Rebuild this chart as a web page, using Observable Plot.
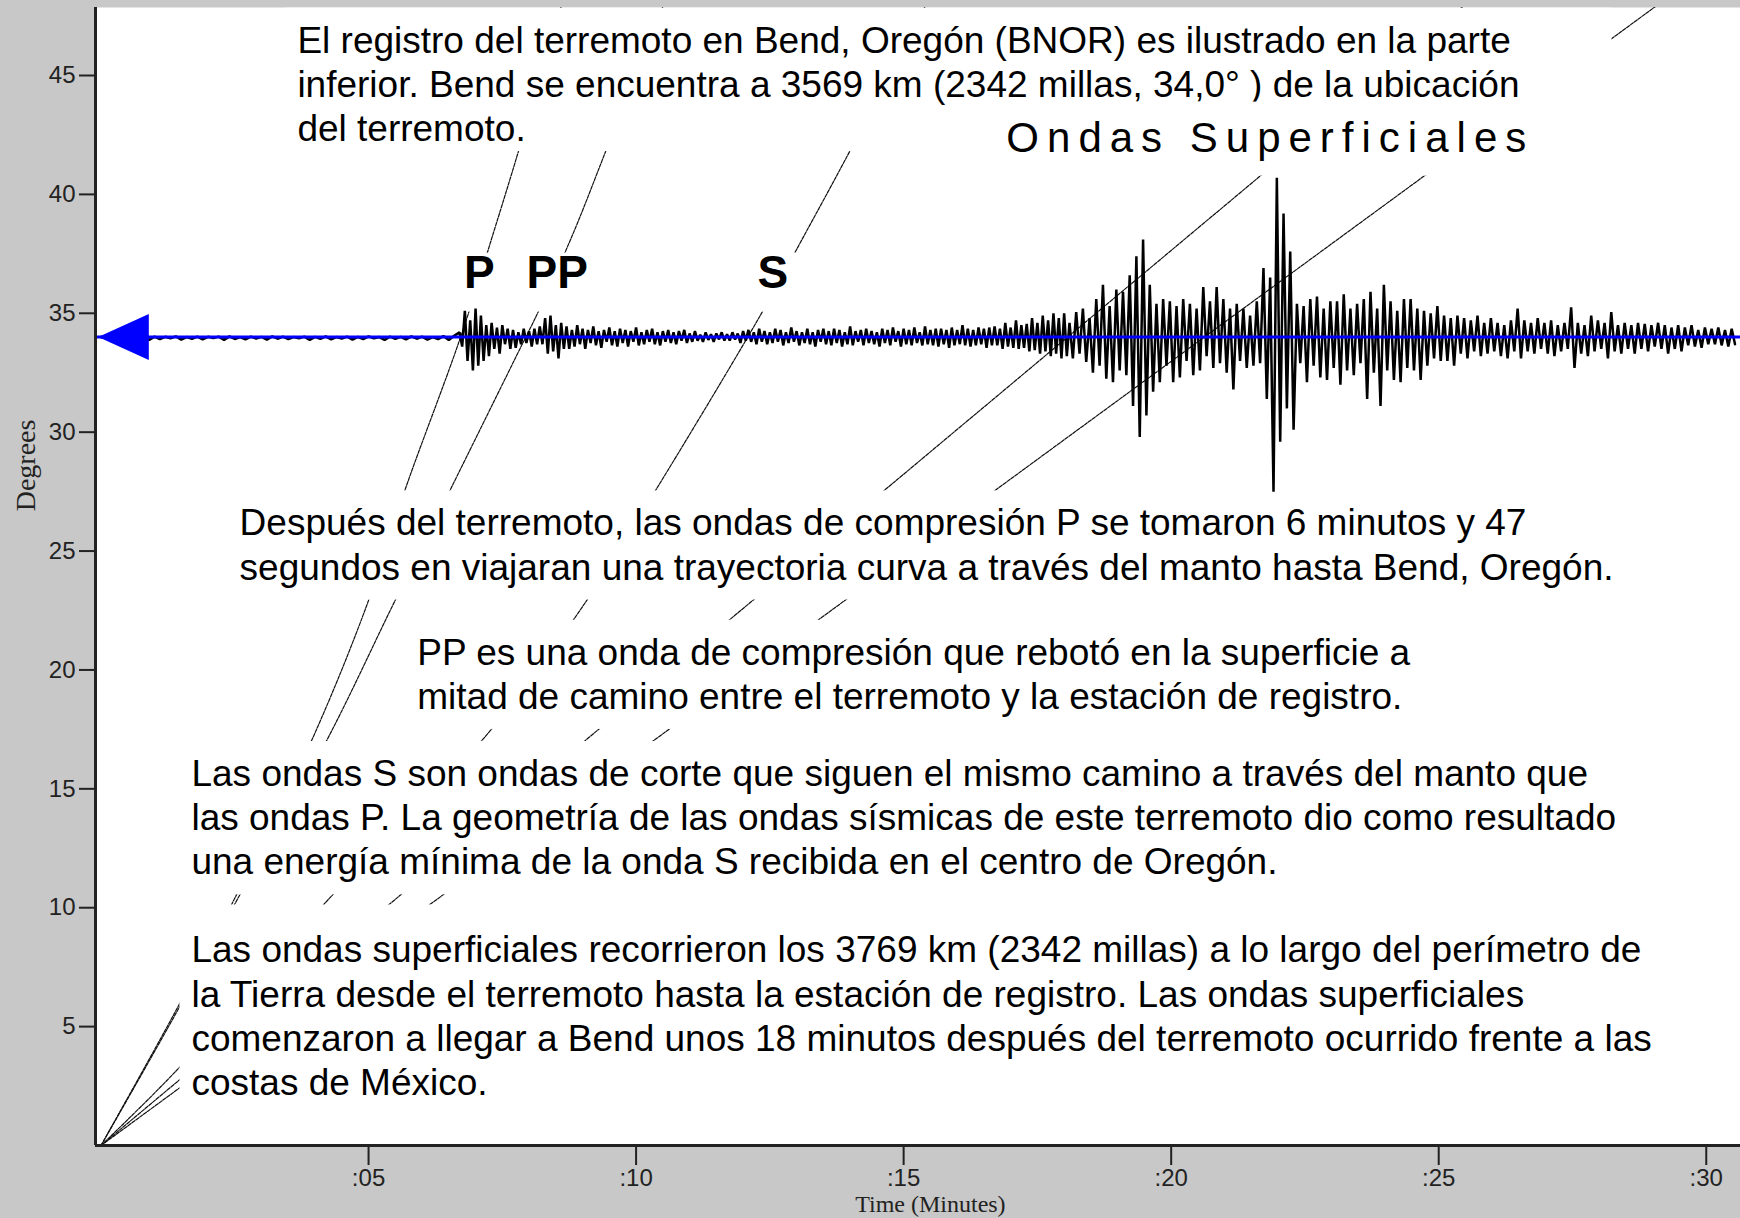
<!DOCTYPE html>
<html><head><meta charset="utf-8">
<script src="https://cdn.jsdelivr.net/npm/d3@7"></script>
<script src="https://cdn.jsdelivr.net/npm/@observablehq/plot@0.6"></script>
<style>html,body{margin:0;padding:0;background:#c8c8c8} svg{display:block}</style>
</head><body><div id="chart"></div>
<script>
// ---------------- data ----------------
const stationDeg = 34.0;                 // Bend, Oregon (BNOR) distance
const xTicks = [5, 10, 15, 20, 25, 30];  // minutes
const yTicks = [5, 10, 15, 20, 25, 30, 35, 40, 45]; // degrees

// travel-time curves: [degrees, minutes]
const travelP   = [[0,0],[5.8,1.43],[10.4,2.5],[17.0,3.93],[22.8,4.98],[27.5,5.67],[34.0,6.72],[38.5,7.35],[41.8,7.8],[47.9,8.6]];
const travelPP  = [[0,0],[5.8,1.46],[10.4,2.56],[17.0,4.21],[22.8,5.47],[27.5,6.51],[33.6,7.85],[35.1,8.18],[38.5,8.85],[41.8,9.43],[47.9,10.5]];
const travelS   = [[0,0],[3.2,1.43],[10.4,4.27],[17.3,7.22],[22.6,8.98],[27.5,10.35],[35.1,12.37],[38.1,13.1],[41.8,13.99],[47.9,15.4]];
const travelSurf1 = [[0,0],[47.9,25.45]];
const travelSurf2 = [[0,0],[47.9,29.05]];

// seismogram (offset from station line, degrees), sampled segments
const preStart = 0, preStep = 0.1;
const tracePreP = [0,-0.05,0.02,-0.08,0.01,-0.1,0.03,-0.06,0,-0.12,0.02,-0.09,0.01,-0.05,0.03,-0.11,0,-0.07,0.02,-0.1,
 0.01,-0.04,0.02,-0.12,0.03,-0.08,0,-0.1,0.02,-0.06,0.01,-0.11,0.03,-0.07,0.02,-0.09,0,-0.05,0.02,-0.12,
 0.01,-0.08,0.03,-0.1,0,-0.06,0.02,-0.11,0.01,-0.09,0.03,-0.05,0,-0.12,0.02,-0.08,0.01,-0.1,0.03,-0.07,
 0.02,-0.11,0,-0.09,0.04,-0.12,0.05];
const bodyStart = 6.7, bodyStep = 0.05;
const traceBody = [
 0.2,-0.4,1.1,-1.0,0.7,-1.4,1.2,-1.2,0.9,-1.0,0.5,-0.8,0.6,-0.5,0.4,-0.7,0.5,-0.3,0.35,-0.5,
 0.3,-0.45,0.2,-0.3,0.35,-0.25,0.25,-0.4,0.35,-0.3,0.45,-0.3,0.8,-0.7,0.9,-0.6,0.5,-0.9,0.6,-0.5,
 0.45,-0.5,0.3,-0.4,0.5,-0.3,0.35,-0.5,0.3,-0.25,0.45,-0.35,0.25,-0.45,0.3,-0.2,0.4,-0.35,0.25,-0.4,
 0.35,-0.25,0.3,-0.4,0.25,-0.2,0.4,-0.35,0.2,-0.3,0.3,-0.2,0.35,-0.3,0.2,-0.35,0.25,-0.2,0.3,-0.25,
 0.2,-0.3,0.25,-0.15,0.3,-0.25,0.15,-0.2,0.25,-0.15,0.1,-0.2,0.2,-0.12,0.12,-0.2,0.15,-0.1,0.2,-0.15,
 0.12,-0.15,0.2,-0.1,0.15,-0.25,0.25,-0.15,0.3,-0.2,0.2,-0.3,0.35,-0.2,0.25,-0.3,0.2,-0.25,0.35,-0.2,
 0.3,-0.35,0.2,-0.25,0.4,-0.2,0.25,-0.35,0.2,-0.25,0.35,-0.3,0.2,-0.4,0.3,-0.2,0.35,-0.3,0.25,-0.35,
 0.35,-0.25,0.3,-0.4,0.2,-0.3,0.45,-0.35,0.25,-0.2,0.3,-0.35,0.35,-0.25,0.25,-0.3,0.2,-0.4,0.35,-0.25,
 0.3,-0.35,0.4,-0.2,0.25,-0.4,0.35,-0.3,0.3,-0.35,0.4,-0.25,0.2,-0.35,0.45,-0.3,0.3,-0.35,0.35,-0.4,
 0.35,-0.3,0.3,-0.45,0.4,-0.35,0.3,-0.3,0.5,-0.35,0.35,-0.4,0.3,-0.35,0.4,-0.3,0.35,-0.45,0.4,-0.35,
 0.45,-0.35,0.35,-0.5,0.6,-0.4,0.4,-0.45,0.7,-0.5,0.5,-0.45,0.55,-0.6,0.8,-0.55,0.6,-0.7,0.9,-0.6,
 0.7,-0.8,1.0,-0.7,0.8,-0.9,1.0,-0.8];
const surfStart = 18.1, surfStep = 0.0625;
const traceSurface = [
 0.6,-0.9,1.05,-0.7,1.2,-1.05,0.8,-1.5,
 1.6,-1.2,2.2,-1.75,1.3,-1.9,2.0,-1.4,
 1.9,-1.6,2.6,-2.9,3.4,-4.2,4.1,-3.3,
 2.2,-2.3,1.4,-1.9,1.6,-1.2,1.5,-1.9,
 1.3,-1.7,1.6,-1.0,1.4,-1.6,1.2,-1.4,
 2.1,-0.8,1.5,-1.3,2.1,-1.1,1.6,-1.5,
 1.2,-2.2,1.4,-1.0,1.2,-1.3,0.9,-1.2,
 1.5,-1.1,2.9,-2.6,2.5,-6.5,6.7,-4.4,
 5.2,-3.0,3.6,-3.9,1.4,-1.1,1.3,-1.9,
 1.6,-1.2,1.7,-1.7,1.2,-1.8,1.5,-1.3,
 1.5,-2.0,1.8,-1.4,1.2,-1.6,1.4,-1.1,
 1.6,-2.6,1.9,-1.5,1.2,-2.9,2.2,-1.4,
 1.5,-1.8,1.1,-1.9,1.6,-1.3,1.6,-1.4,
 1.2,-1.8,1.1,-1.2,1.0,-0.9,1.3,-1.0,
 0.9,-1.0,0.8,-1.2,0.9,-0.7,0.8,-0.9,
 0.7,-0.6,0.9,-0.8,0.6,-0.7,0.8,-0.6,
 0.6,-0.8,0.5,-0.9,0.7,-0.6,1.2,-0.9,
 0.7,-0.6,0.6,-0.7,0.8,-0.5,0.6,-0.7,
 0.7,-0.8,0.5,-0.6,0.6,-0.5,1.25,-1.3,
 0.6,-0.7,0.5,-0.8,0.9,-0.6,0.7,-0.5,
 0.6,-0.9,1.05,-0.6,0.5,-0.7,0.6,-0.5,
 0.5,-0.7,0.6,-0.5,0.55,-0.6,0.5,-0.4,
 0.6,-0.5,0.5,-0.7,0.4,-0.5,0.5,-0.6,
 0.4,-0.35,0.5,-0.4,0.3,-0.45,0.4,-0.3,
 0.35,-0.3,0.4,-0.35,0.3,-0.4,0.35,-0.3];

// annotations: x (minutes) and first baseline y (degrees)
const annotations = [
 {x: 3.67, y: 45.96, lines: [
  "El registro del terremoto en Bend, Oregón (BNOR) es ilustrado en la parte",
  "inferior. Bend se encuentra a 3569 km (2342 millas, 34,0° ) de la ubicación",
  "del terremoto."]},
 {x: 2.59, y: 25.66, lines: [
  "Después del terremoto, las ondas de compresión P se tomaron 6 minutos y 47",
  "segundos en viajaran una trayectoria curva a través del manto hasta Bend, Oregón."]},
 {x: 5.91, y: 20.22, lines: [
  "PP es una onda de compresión que rebotó en la superficie a",
  "mitad de camino entre el terremoto y la estación de registro."]},
 {x: 1.69, y: 15.12, lines: [
  "Las ondas S son ondas de corte que siguen el mismo camino a través del manto que",
  "las ondas P. La geometría de las ondas sísmicas de este terremoto dio como resultado",
  "una energía mínima de la onda S recibida en el centro de Oregón."]},
 {x: 1.69, y: 7.70, lines: [
  "Las ondas superficiales recorrieron los 3769 km (2342 millas) a lo largo del perímetro de",
  "la Tierra desde el terremoto hasta la estación de registro. Las ondas superficiales",
  "comenzaron a llegar a Bend unos 18 minutos después del terremoto ocurrido frente a las",
  "costas de México."]}
];
const phaseLabels = [{name: "P", t: 6.785}, {name: "PP", t: 7.953}, {name: "S", t: 12.27}];
const phaseLabelDeg = 36.08;
const surfaceLabel = [{text: "Ondas Superficiales", t: 16.92, deg: 41.80}];
const axisLabelY = {text: "Degrees", deg: 28.6};
const axisLabelX = {text: "Time (Minutes)", t: 15.5};

// ---------------- build ----------------
function expand(start, step, values) {
  return values.map((v, i) => ({t: start + i * step, deg: stationDeg + v}));
}
const trace = [
  ...expand(preStart, preStep, tracePreP),
  ...expand(bodyStart, bodyStep, traceBody),
  ...expand(surfStart, surfStep, traceSurface)
];

const xDomain = [-0.103, 30.64];
const yDomain = [0, 47.86];
const fs = 37, lh = 1.195;
const sans = "Liberation Sans, Arial, Helvetica, sans-serif";
const tickFont = "Liberation Sans, Arial, sans-serif";
const serif = "Liberation Serif, Times New Roman, serif";

const arrowSymbol = {
  draw(ctx, size) {
    const s = Math.sqrt(size);
    ctx.moveTo(-0.55 * s, 0);
    ctx.lineTo(0.55 * s, -0.5 * s);
    ctx.lineTo(0.55 * s, 0.5 * s);
    ctx.closePath();
  }
};

const lineStyle = {x: d => d[1], y: d => d[0], stroke: "#111", strokeWidth: 1.2,
  strokeDasharray: "3.5 1.3", curve: "catmull-rom", clip: true};

const plot = Plot.plot({
  width: 1740, height: 1218,
  marginLeft: 95, marginRight: 0, marginTop: 7, marginBottom: 73,
  x: {domain: xDomain},
  y: {domain: yDomain},
  style: {background: "#c8c8c8", overflow: "hidden"},
  marks: [
    Plot.frame({fill: "white", stroke: "none"}),
    Plot.line(travelP, lineStyle),
    Plot.line(travelPP, lineStyle),
    Plot.line(travelS, lineStyle),
    Plot.line(travelSurf1, lineStyle),
    Plot.line(travelSurf2, lineStyle),
    Plot.text(annotations, {x: "x", y: "y", text: d => d.lines.join("\n"),
      textAnchor: "start", lineAnchor: "top", lineHeight: lh, fontSize: fs,
      fontFamily: sans, fill: "#000", dy: -0.71 * lh * fs, ariaDescription: "blocks"}),
    Plot.text(phaseLabels, {x: "t", y: () => phaseLabelDeg, text: "name",
      textAnchor: "start", lineAnchor: "bottom", fontSize: 46, fontWeight: "bold",
      fontFamily: sans, fill: "#000", ariaDescription: "phases"}),
    Plot.text(surfaceLabel, {x: "t", y: "deg", text: "text",
      textAnchor: "start", lineAnchor: "bottom", fontSize: 42,
      fontFamily: sans, fill: "#000", ariaDescription: "ondas"}),
    Plot.line(trace, {x: "t", y: "deg", stroke: "#000", strokeWidth: 2.5, strokeLinejoin: "miter"}),
    Plot.ruleY([stationDeg], {stroke: "#0000ff", strokeWidth: 3}),
    Plot.dot([stationDeg], {y: d => d, frameAnchor: "left", dx: 28, symbol: arrowSymbol,
      r: 25.95, fill: "#0000ff", stroke: "none"}),
    Plot.axisY({ticks: yTicks, tickSize: 16, tickPadding: 4, fontSize: 24,
      fontFamily: tickFont, label: null, color: "#222", strokeWidth: 2, tickFormat: d => String(d)}),
    Plot.axisX({ticks: xTicks, tickSize: 20, tickPadding: 3, fontSize: 24,
      fontFamily: tickFont, label: null, color: "#222", strokeWidth: 2,
      tickFormat: d => ":" + String(d).padStart(2, "0")}),
    Plot.ruleX([xDomain[0]], {stroke: "#222", strokeWidth: 3}),
    Plot.ruleY([yDomain[0]], {stroke: "#222", strokeWidth: 3}),
    Plot.text([axisLabelY], {y: "deg", text: "text", frameAnchor: "left", dx: -69,
      rotate: -90, fontSize: 28, fontFamily: serif, fill: "#222", textAnchor: "middle", lineAnchor: "middle"}),
    Plot.text([axisLabelX], {x: "t", text: "text", frameAnchor: "bottom", dy: 59,
      fontSize: 24, fontFamily: serif, fill: "#222", textAnchor: "middle", lineAnchor: "middle"})
  ]
});

document.getElementById("chart").appendChild(plot);

// locate the annotation text groups (by description, falling back to mark order)
const textGroups = Array.from(plot.querySelectorAll('g[aria-label="text"]'));
const grp = (name, idx) => plot.querySelector(`g[aria-description="${name}"]`) || textGroups[idx];
const blocksG = grp("blocks", 0), phasesG = grp("phases", 1), ondasG = grp("ondas", 2);

// spacing of the "Ondas Superficiales" heading
ondasG.querySelectorAll("text").forEach(t => t.setAttribute("letter-spacing", "8"));

// white boxes behind the annotation texts (derived from the rendered text extents)
// pads: [top, right, bottom, left]
const blockPads = [[12, 92, 2, 12], [12, 12, 12, 12], [12, 12, 12, 12], [12, 12, 12, 12], [25, 12, 12, 12]];
function boxes(g, padFor) {
  g.querySelectorAll("text").forEach(function (t, i) {
    const b = t.getBBox();
    const [pt, pr, pb, pl] = padFor(i);
    const r = document.createElementNS("http://www.w3.org/2000/svg", "rect");
    r.setAttribute("x", b.x - pl);
    r.setAttribute("y", b.y - pt);
    r.setAttribute("width", b.width + pl + pr);
    r.setAttribute("height", b.height + pt + pb);
    r.setAttribute("fill", "white");
    r.setAttribute("stroke", "none");
    const tr = t.getAttribute("transform");
    if (tr) r.setAttribute("transform", tr);
    t.parentNode.insertBefore(r, t);
  });
}
boxes(blocksG, i => blockPads[i] || [12, 12, 12, 12]);
boxes(phasesG, () => [-7, 10, 14, 10]);
boxes(ondasG, () => [12, 12, 15, 12]);
</script>
</body></html>
